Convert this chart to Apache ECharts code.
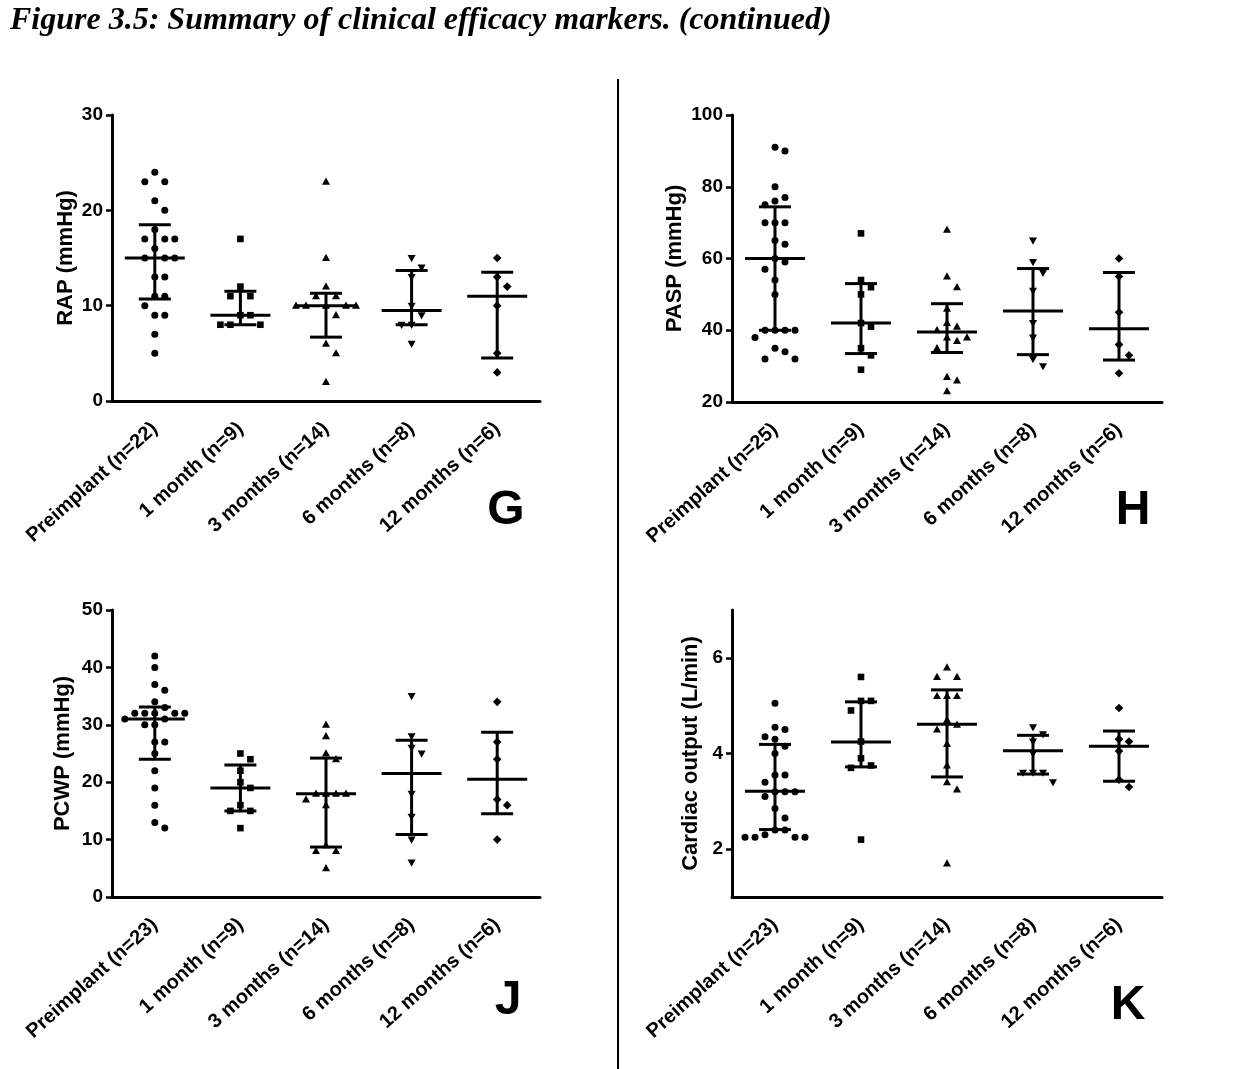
<!DOCTYPE html>
<html>
<head>
<meta charset="utf-8">
<title>Figure 3.5</title>
<script src="https://cdn.jsdelivr.net/npm/echarts@6.0.0/dist/echarts.min.js"></script>
<style>
  html, body { margin: 0; padding: 0; background: #fff; }
  #chart { width: 1236px; height: 1069px; }
</style>
</head>
<body>
<div id="chart"></div>
<script>
// categories
const catsG = ['Preimplant (n=22)', '1 month (n=9)', '3 months (n=14)', '6 months (n=8)', '12 months (n=6)']
const catsH = ['Preimplant (n=25)', '1 month (n=9)', '3 months (n=14)', '6 months (n=8)', '12 months (n=6)']
const catsJ = ['Preimplant (n=23)', '1 month (n=9)', '3 months (n=14)', '6 months (n=8)', '12 months (n=6)']
const catsK = ['Preimplant (n=23)', '1 month (n=9)', '3 months (n=14)', '6 months (n=8)', '12 months (n=6)']

// G - RAP (mmHg)
const rapPre = [24, 23, 23, 21, 20, 18, 17, 17, 17, 16, 15, 15, 15, 13, 13, 11, 11, 10, 9, 9, 7, 5]
const rap1m = [17, 12, 11, 11, 9, 9, 8, 8, 8]
const rap3m = [23, 15, 12, 11, 11, 10, 10, 10, 10, 10, 9, 6, 5, 2]
const rap6m = [15, 14, 13, 10, 9, 8, 8, 6]
const rap12m = [15, 13, 12, 10, 5, 3]
const rapMid = [15, 9, 10, 9.5, 11]
const rapLow = [10.7, 8, 6.7, 8, 4.5]
const rapHigh = [18.5, 11.5, 11.3, 13.7, 13.5]

// H - PASP (mmHg)
const paspPre = [91, 90, 80, 77, 76, 75, 70, 70, 70, 65, 64, 60, 59, 57, 54, 50, 40, 40, 40, 40, 38, 35, 34, 32, 32]
const pasp1m = [67, 54, 52, 50, 42, 41, 35, 33, 29]
const pasp3m = [68, 55, 52, 46, 42, 41, 40, 38, 38, 37, 35, 27, 26, 23]
const pasp6m = [65, 59, 56, 51, 42, 38, 32, 30]
const pasp12m = [60, 55, 45, 36, 33, 28]
const paspMid = [60, 42, 39.5, 45.4, 40.4]
const paspLow = [40, 33.5, 33.8, 33.2, 31.7]
const paspHigh = [74.4, 53, 47.4, 57.2, 56.1]

// J - PCWP (mmHg)
const pcwpPre = [42, 40, 37, 36, 34, 33, 32, 32, 32, 32, 32, 31, 31, 30, 30, 27, 27, 25, 22, 19, 16, 13, 12]
const pcwp1m = [25, 24, 22, 20, 19, 16, 15, 15, 12]
const pcwp3m = [30, 28, 25, 24, 18, 18, 18, 18, 17, 16, 9, 8, 8, 5]
const pcwp6m = [35, 28, 26, 25, 18, 14, 10, 6]
const pcwp12m = [34, 27, 24, 17, 16, 10]
const pcwpMid = [31, 19, 18, 21.5, 20.5]
const pcwpLow = [24, 15, 8.7, 10.9, 14.5]
const pcwpHigh = [33.1, 23, 24.2, 27.3, 28.7]

// K - Cardiac output (L/min)
const coPre = [5.05, 4.55, 4.5, 4.35, 4.3, 4.15, 4.0, 3.55, 3.55, 3.4, 3.2, 3.2, 3.2, 3.1, 2.85, 2.65, 2.4, 2.4, 2.3, 2.25, 2.25, 2.25, 2.25]
const co1m = [5.6, 5.1, 5.1, 4.9, 4.25, 3.9, 3.75, 3.7, 2.2]
const co3m = [5.8, 5.6, 5.6, 5.2, 5.2, 5.2, 4.7, 4.6, 4.5, 4.2, 3.75, 3.4, 3.25, 1.7]
const co6m = [4.55, 4.4, 4.25, 4.0, 3.6, 3.6, 3.6, 3.4]
const co12m = [4.95, 4.3, 4.25, 4.05, 3.45, 3.3]
const coMid = [3.21, 4.24, 4.61, 4.06, 4.15]
const coLow = [2.41, 3.72, 3.51, 3.57, 3.42]
const coHigh = [4.19, 5.08, 5.33, 4.38, 4.47]

const FONT = 'Liberation Sans, Arial, sans-serif'
const shapes = ['circle', 'rect', 'triangle', 'invTriangle', 'diamond']
const SLOT = 10

const panels = [
  { cats: catsG, groups: [rapPre, rap1m, rap3m, rap6m, rap12m], mid: rapMid, low: rapLow, high: rapHigh,
    name: 'RAP (mmHg)', min: 0, max: 30, interval: 10, nameGap: 35,
    grid: { left: 112, top: 115, width: 428, height: 286 } },
  { cats: catsH, groups: [paspPre, pasp1m, pasp3m, pasp6m, pasp12m], mid: paspMid, low: paspLow, high: paspHigh,
    name: 'PASP (mmHg)', min: 20, max: 100, interval: 20, nameGap: 46,
    grid: { left: 732, top: 115, width: 430, height: 287 } },
  { cats: catsJ, groups: [pcwpPre, pcwp1m, pcwp3m, pcwp6m, pcwp12m], mid: pcwpMid, low: pcwpLow, high: pcwpHigh,
    name: 'PCWP (mmHg)', min: 0, max: 50, interval: 10, nameGap: 38,
    grid: { left: 112, top: 610, width: 428, height: 287 } },
  { cats: catsK, groups: [coPre, co1m, co3m, co6m, co12m], mid: coMid, low: coLow, high: coHigh,
    name: 'Cardiac output (L/min)', min: 1, max: 7, ticks: [2, 4, 6], nameGap: 30,
    grid: { left: 732, top: 610, width: 430, height: 287 } }
]

// spread tied / close points sideways like a column scatter
function swarm(values, ppu) {
  const placed = []
  const order = values.map((v, i) => i).sort((a, b) => values[b] - values[a])
  const slots = new Array(values.length)
  for (const i of order) {
    const y = values[i] * ppu
    for (let k = 0; k < 20; k++) {
      const s = k === 0 ? 0 : (k % 2 === 1 ? (k + 1) / 2 : -k / 2)
      const hit = placed.some(p => p.s === s && Math.abs(p.y - y) < 11)
      if (!hit) {
        placed.push({ s: s, y: y })
        slots[i] = s
        break
      }
    }
  }
  return slots
}

function markerEl(kind, x, y) {
  const style = { fill: '#000' }
  if (kind === 'circle') return { type: 'circle', shape: { cx: x, cy: y, r: 3.5 }, style: style }
  if (kind === 'rect') return { type: 'rect', shape: { x: x - 3.3, y: y - 3.3, width: 6.6, height: 6.6 }, style: style }
  if (kind === 'triangle') return { type: 'polygon', shape: { points: [[x, y - 4.2], [x + 4, y + 3], [x - 4, y + 3]] }, style: style }
  if (kind === 'invTriangle') return { type: 'polygon', shape: { points: [[x, y + 4.2], [x + 4, y - 3], [x - 4, y - 3]] }, style: style }
  return { type: 'polygon', shape: { points: [[x, y - 4.3], [x + 4.3, y], [x, y + 4.3], [x - 4.3, y]] }, style: style }
}

const grids = []
const xAxes = []
const yAxes = []
const series = []

panels.forEach((p, idx) => {
  grids.push(p.grid)
  xAxes.push({
    type: 'category',
    gridIndex: idx,
    data: p.cats,
    boundaryGap: true,
    axisLine: { lineStyle: { color: '#000', width: 3 } },
    axisTick: { alignWithLabel: true, length: 7, lineStyle: { color: '#000', width: 2.5 } },
    axisLabel: { interval: 0, rotate: 42, margin: 25, color: '#000', fontSize: 20, fontWeight: 'bold', fontFamily: FONT },
    splitLine: { show: false }
  })
  const y = {
    type: 'value',
    gridIndex: idx,
    min: p.min,
    max: p.max,
    name: p.name,
    nameLocation: 'middle',
    nameRotate: 90,
    nameGap: p.nameGap,
    nameTextStyle: { color: '#000', fontSize: 22, fontWeight: 'bold', fontFamily: FONT },
    axisLine: { show: true, lineStyle: { color: '#000', width: 3 } },
    axisTick: { show: true, length: 6, lineStyle: { color: '#000', width: 2.5 } },
    axisLabel: { margin: 9, color: '#000', fontSize: 19, fontWeight: 'bold', fontFamily: FONT },
    splitLine: { show: false }
  }
  if (p.ticks) {
    y.axisLabel.customValues = p.ticks
    y.axisTick.customValues = p.ticks
  } else {
    y.interval = p.interval
  }
  yAxes.push(y)

  // points
  const ppu = p.grid.height / (p.max - p.min)
  const pts = []
  p.groups.forEach((vals, c) => {
    const slots = swarm(vals, ppu)
    vals.forEach((v, i) => pts.push([c, v, slots[i]]))
  })
  series.push({
    type: 'custom',
    xAxisIndex: idx,
    yAxisIndex: idx,
    data: pts,
    encode: { x: 0, y: 1 },
    renderItem: function (params, api) {
      const c = api.value(0)
      const pos = api.coord([c, api.value(1)])
      return markerEl(shapes[c], pos[0] + api.value(2) * SLOT, pos[1])
    },
    silent: true,
    z: 2
  })

  // median and range bars
  const bars = p.mid.map((m, c) => [c, m, p.low[c], p.high[c]])
  series.push({
    type: 'custom',
    xAxisIndex: idx,
    yAxisIndex: idx,
    data: bars,
    encode: { x: 0, y: [1, 2, 3] },
    renderItem: function (params, api) {
      const c = api.value(0)
      const m = api.coord([c, api.value(1)])
      const lo = api.coord([c, api.value(2)])
      const hi = api.coord([c, api.value(3)])
      const st = { stroke: '#000', lineWidth: 3 }
      return {
        type: 'group',
        children: [
          { type: 'line', shape: { x1: m[0] - 30, y1: m[1], x2: m[0] + 30, y2: m[1] }, style: st },
          { type: 'line', shape: { x1: lo[0] - 16, y1: lo[1], x2: lo[0] + 16, y2: lo[1] }, style: st },
          { type: 'line', shape: { x1: hi[0] - 16, y1: hi[1], x2: hi[0] + 16, y2: hi[1] }, style: st },
          { type: 'line', shape: { x1: lo[0], y1: lo[1], x2: hi[0], y2: hi[1] }, style: st }
        ]
      }
    },
    silent: true,
    z: 3
  })
})

const letters = [
  { t: 'G', x: 506, y: 511 },
  { t: 'H', x: 1133, y: 511 },
  { t: 'J', x: 508, y: 1001 },
  { t: 'K', x: 1128, y: 1006 }
]

const chart = echarts.init(document.getElementById('chart'))
chart.setOption({
  backgroundColor: '#fff',
  animation: false,
  title: {
    text: 'Figure 3.5: Summary of clinical efficacy markers. (continued)',
    left: 10,
    top: 5,
    padding: 0,
    textStyle: { color: '#000', fontSize: 32, fontWeight: 'bold', fontStyle: 'italic', fontFamily: 'Liberation Serif, Times New Roman, serif' }
  },
  grid: grids,
  xAxis: xAxes,
  yAxis: yAxes,
  series: series,
  graphic: [
    { type: 'line', shape: { x1: 618, y1: 79, x2: 618, y2: 1069 }, style: { stroke: '#000', lineWidth: 2 } }
  ].concat(letters.map(l => ({
    type: 'text',
    x: l.x,
    y: l.y,
    style: { text: l.t, fill: '#000', fontSize: 48, fontWeight: 'bold', fontFamily: FONT, align: 'center', verticalAlign: 'middle' }
  })))
})
</script>
</body>
</html>
